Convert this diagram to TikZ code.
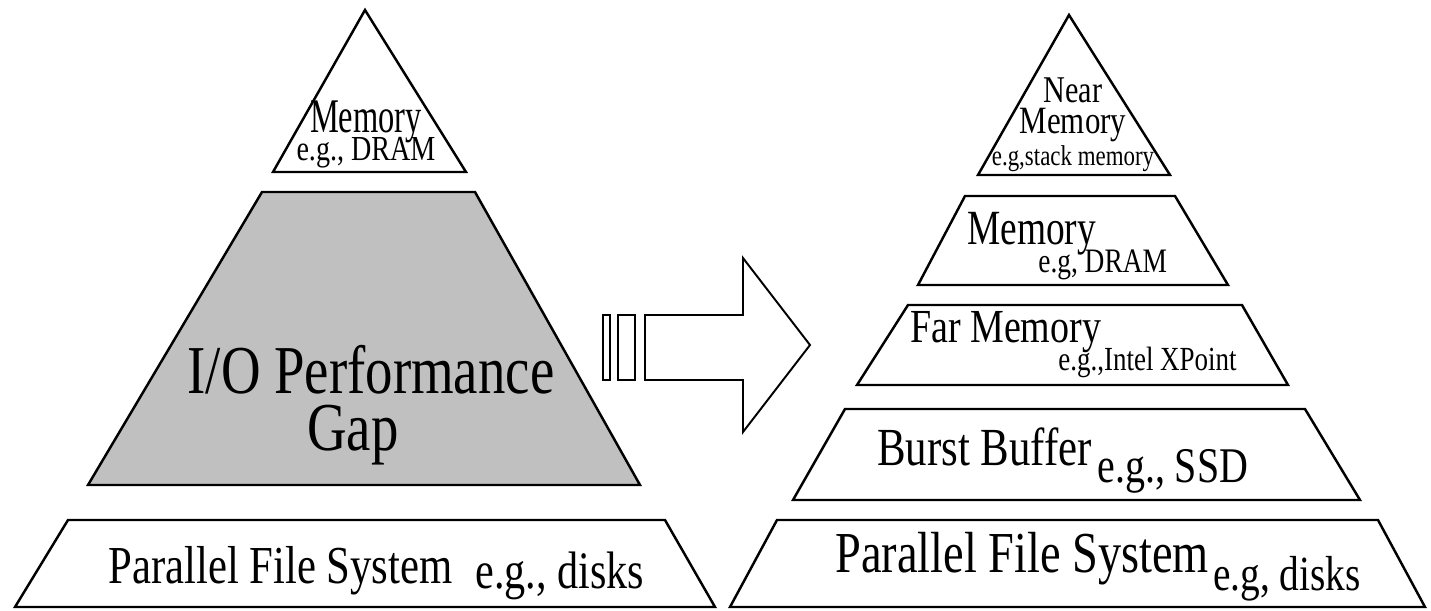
\documentclass[tikz,border=0pt]{standalone}
\usepackage{fontspec}
\setmainfont{Liberation Serif}[FakeStretch=0.8]
\usepackage{graphicx}
\usepackage{tikz}

\definecolor{gapgrey}{RGB}{192,192,192}
\newcommand{\fsz}[2]{\fontsize{#1pt}{#2pt}\selectfont}
\newcommand{\sqz}[2]{\scalebox{#1}[1]{#2}}
\lineskiplimit=-100pt

\begin{document}
\begin{tikzpicture}[x=0.02cm, y=-0.02cm,
    tier/.style={draw, line width=1.4pt, line join=miter, fill=white},
    gaptier/.style={tier, fill=gapgrey},
    bararrow/.style={draw, line width=1.1pt, line join=miter, fill=white},
    lbl/.style={inner sep=0pt, anchor=base west}]
  \useasboundingbox (0,0) rectangle (1431,610);

  % left pyramid
  \draw[tier] (365,10) -- (466,172) -- (273,172) -- cycle;
  \draw[gaptier] (262,192) -- (475,192) -- (640,485) -- (88,485) -- cycle;
  \draw[tier] (68,520) -- (665,520) -- (715,607) -- (15,607) -- cycle;

  \node[lbl, anchor=base, align=center, font=\fsz{20}{15.9}] (memL) at (366,160)
    {{\fsz{27.5}{15.9}\sqz{0.84}{Memory}}\\e.g., DRAM};
  \node[lbl, anchor=base, align=center, font=\fsz{39}{32.4}] (ioL) at (371,450)
    {I/O Performance\\Gap\hspace*{0.72cm}};
  \node[lbl, font=\fsz{30.4}{36}] (pfsL) at (108,583) {Parallel File System};
  \node[lbl, font=\fsz{30}{36}] (disksL) at (475,588) {e.g., disks};

  % block arrow
  \draw[bararrow] (603,315) rectangle (610,380);
  \draw[bararrow] (618,315) rectangle (635,380);
  \draw[bararrow] (645,315) -- (743,315) -- (743,258) -- (810,345)
    -- (743,432) -- (743,380) -- (645,380) -- cycle;

  % right pyramid
  \draw[tier] (1069,15) -- (1170,175) -- (978,175) -- cycle;
  \draw[tier] (965,196) -- (1175,196) -- (1228,285) -- (918,285) -- cycle;
  \draw[tier] (908,305) -- (1242,305) -- (1288,385) -- (857,385) -- cycle;
  \draw[tier] (845,409) -- (1305,409) -- (1360,500) -- (793,500) -- cycle;
  \draw[tier] (777,520) -- (1378,520) -- (1425,607) -- (730,607) -- cycle;

  \node[lbl, anchor=base, align=center, font=\fsz{16.3}{17.9}] (nearR) at (1073,165)
    {{\fsz{21.5}{17.9}Near}\\{\fsz{22}{17.9}Memory}\\e.g,stack memory};
  \node[lbl, align=left, font=\fsz{19.5}{15.4}] (memR) at (967,272)
    {{\fsz{28}{15.4}\sqz{0.95}{Memory}}\\\hspace*{1.42cm}e.g, DRAM};
  \node[lbl, align=left, font=\fsz{19.2}{15.4}] (farR) at (910,370)
    {{\fsz{27}{15.4}Far Memory}\\\hspace*{2.96cm}e.g.,Intel XPoint};
  \node[lbl, font=\fsz{30.5}{36}] (bbR) at (877,465) {Burst Buffer};
  \node[lbl, font=\fsz{28.4}{34}] (ssdR) at (1097,482) {e.g., SSD};
  \node[lbl, font=\fsz{33}{40}] (pfsR) at (835,572) {Parallel File System};
  \node[lbl, font=\fsz{28}{34}] (disksR) at (1213,590) {e.g, disks};
\end{tikzpicture}
\end{document}
